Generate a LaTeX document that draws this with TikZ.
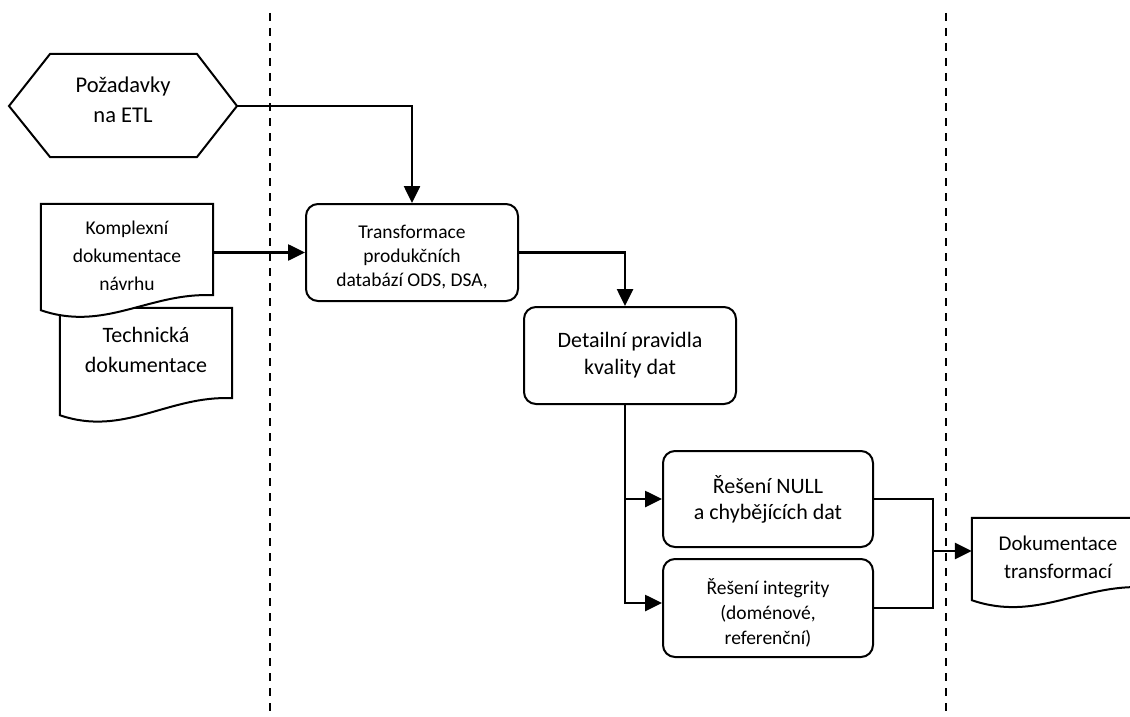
\documentclass[tikz,border=0pt]{standalone}
\usepackage{fontspec}
\setmainfont{Carlito}
\usetikzlibrary{arrows.meta,calc}

\pgfdeclarelayer{bg}
\pgfsetlayers{bg,main}

% document outline behind a text node: #2 drop at left, #3 rise at right
\newcommand{\docoutline}[3]{%
  \begin{pgfonlayer}{bg}
  \draw[docline] (#1.north west) -- (#1.north east) -- ($(#1.south east)+(0,#3)$)
    .. controls ($(#1.south east)+(-64,#3-3)$) and ($(#1.south west)+(64,#2+22)$)
    .. ($(#1.south west)+(0,#2)$) -- cycle;
  \end{pgfonlayer}}

\begin{document}
\begin{tikzpicture}[x=1pt, y=-1pt,
  box/.style={draw, rounded corners=12pt, line width=2pt, align=center, inner sep=0pt},
  doc/.style={align=center, inner sep=0pt, minimum width=172pt},
  docline/.style={draw, fill=white, line width=2pt},
  bigtext/.style={font=\fontsize{22}{26}\selectfont},
  smalltext/.style={font=\fontsize{19.5}{24}\selectfont},
  flow/.style={line width=2.6pt, -{Triangle[length=17pt,width=16pt]}},
  link/.style={line width=1.6pt},
  lane/.style={line width=1.7pt, dash pattern=on 8pt off 7pt}]

\useasboundingbox (0,0) rectangle (1130,717);

% swimlane borders
\draw[lane] (270,13) -- (270,717);
\draw[lane] (946,13) -- (946,717);

% inputs
\node[align=center, font=\fontsize{22.5}{30}\selectfont] (req) at (123,100) {Požadavky\\na ETL};
\draw[line width=2pt] ($(req)+(-114,6)$) -- ($(req)+(-73,-46)$) -- ($(req)+(74,-46)$)
  -- ($(req)+(114,6)$) -- ($(req)+(74,57)$) -- ($(req)+(-73,57)$) -- cycle;
\coordinate (reqtip) at ($(req)+(114,6)$);

\node[doc, font=\fontsize{22}{30}\selectfont, minimum height=84pt] (tech) at (146,350) {Technická\\dokumentace};
\docoutline{tech}{23}{6}
\node[doc, font=\fontsize{19.5}{28}\selectfont, minimum height=104pt] (komplex) at (127,256) {Komplexní\\dokumentace\\návrhu};
\docoutline{komplex}{2}{-13}

% process
\begin{scope}[minimum width=212pt, minimum height=97pt]
  \node[box, smalltext] (trans) at (412,252.5) {\rule{0pt}{22pt}Transformace\\produkčních\\databází ODS, DSA,};
  \node[box, font=\fontsize{22}{27}\selectfont] (detail) at (630,355.5) {Detailní pravidla\\kvality dat};
  \node[box, bigtext, minimum width=210pt, minimum height=96pt] (nullb) at (768,499) {Řešení NULL\\a chybějících dat};
  \node[box, font=\fontsize{19.5}{25}\selectfont, minimum width=210pt, minimum height=98pt] (integ) at (768,608) {\rule{0pt}{25pt}Řešení integrity\\(doménové,\\referenční)};
\end{scope}

% output
\node[doc, font=\fontsize{21}{28}\selectfont, minimum height=78pt] (dok) at (1058,557) {Dokumentace\\transformací};
\docoutline{dok}{4}{-9}

\coordinate (join) at (933,551);

\draw[flow] (reqtip) -| (trans.north);
\draw[flow] (komplex.east |- trans.west) -- (trans.west);
\draw[flow] (trans.east) -| ([xshift=-5pt]detail.north);
\draw[flow] ([xshift=-5pt]detail.south) |- (nullb.west);
\draw[flow] ([xshift=-5pt]detail.south) |- ([yshift=5pt]integ.west);
\draw[link] (nullb.east) -| (join) |- (integ.east);
\draw[flow] (join) -- (join -| dok.west);

\end{tikzpicture}
\end{document}
